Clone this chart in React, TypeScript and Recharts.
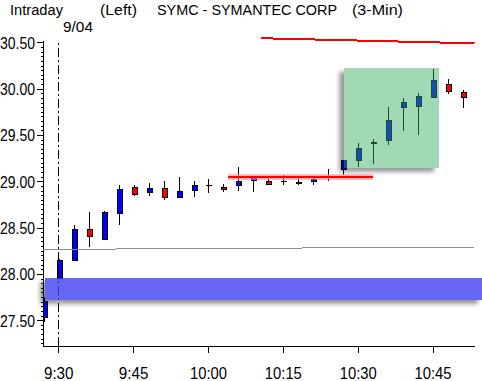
import React from 'react';
import { ComposedChart, Bar, XAxis, YAxis, ReferenceArea, ReferenceLine } from 'recharts';

// minutes after 9:30, one 3-min candle each
const times = [-3, 0, 3, 6, 9, 12, 15, 18, 21, 24, 27, 30, 33, 36, 39, 42, 45, 48, 51, 54, 57, 60, 63, 66, 69, 72, 75, 78, 81];
const opens = [27.54, 27.96, 28.16, 28.49, 28.38, 28.66, 28.94, 28.89, 28.93, 28.84, 28.91, 28.96, 28.94, 28.96, 29.02, 29.01, 29.01, 28.99, 29.01, 29.06, 29.14, 29.23, 29.42, 29.45, 29.81, 29.82, 29.92, 30.06, 29.97];
const highs = [27.76, 28.17, 28.53, 28.67, 28.68, 28.96, 28.96, 28.99, 29.01, 29.05, 29.01, 29.03, 28.98, 29.16, 29.06, 29.06, 29.07, 29.05, 29.05, 29.14, 29.23, 29.42, 29.46, 29.81, 29.90, 29.96, 30.22, 30.11, 29.99];
const lows = [27.49, 27.95, 28.15, 28.30, 28.37, 28.53, 28.85, 28.85, 28.80, 28.82, 28.84, 28.88, 28.89, 28.90, 28.89, 28.97, 28.96, 28.96, 28.97, 29.01, 29.07, 29.16, 29.19, 29.40, 29.55, 29.50, 29.90, 29.95, 29.80];
const closes = [27.71, 28.16, 28.49, 28.41, 28.67, 28.92, 28.87, 28.93, 28.84, 28.90, 28.96, 28.96, 28.92, 29.01, 29.05, 28.98, 29.01, 29.00, 29.03, 29.06, 29.23, 29.36, 29.43, 29.67, 29.86, 29.93, 30.10, 29.98, 29.92];

const xTicks = [0, 15, 30, 45, 60, 75];
const xTickLabels = ['9:30', '9:45', '10:00', '10:15', '10:30', '10:45'];
const yMajorTicks = [27.5, 28, 28.5, 29, 29.5, 30, 30.5];

// drawn studies (data coordinates)
const blueBand = { x1: -2.75, x2: 85, y1: 27.725, y2: 27.96 };
const greenBox = { x1: 57.2, x2: 76.2, y1: 29.15, y2: 30.23 };
const supportLine = [{ x: 34, y: 29.056 }, { x: 62.9, y: 29.056 }];
const topLine = [{ x: 40.5, y: 30.55 }, { x: 83.3, y: 30.495 }];
const grayLine = [{ x: -3.15, y: 28.27 }, { x: 83.3, y: 28.295 }];

const FONT = "'Liberation Sans Narrow', 'Liberation Sans', Arial, sans-serif";

const candles = times.map((t, i) => ({
  t,
  open: opens[i],
  high: highs[i],
  low: lows[i],
  close: closes[i],
  range: [lows[i], highs[i]],
}));

const yTicks: number[] = [];
for (let i = 0; i <= 65; i++) yTicks.push(+(27.25 + i * 0.05).toFixed(2));

const Candle = (props: any) => {
  const { x, y, width, height, payload } = props;
  const top = Math.min(y, y + height);
  const h = Math.abs(height);
  const ppu = h / (payload.high - payload.low);
  const cx = Math.round(x + width / 2) + 0.5;
  const yO = top + (payload.high - payload.open) * ppu;
  const yC = top + (payload.high - payload.close) * ppu;
  const bodyTop = Math.round(Math.min(yO, yC)) + 0.5;
  const bodyBot = Math.round(Math.max(yO, yC)) + 0.5;
  const up = payload.close > payload.open;
  const doji = payload.close === payload.open;
  return (
    <g>
      <line x1={cx} x2={cx} y1={top} y2={top + h} stroke="#000" strokeWidth={1} />
      {doji ? (
        <line x1={cx - 3} x2={cx + 3} y1={bodyTop} y2={bodyTop} stroke="#000" strokeWidth={1} />
      ) : (
        <rect
          x={cx - 2.5}
          y={bodyTop}
          width={5}
          height={Math.max(bodyBot - bodyTop, 1)}
          fill={up ? '#0000ff' : '#ff0000'}
          stroke="#000"
          strokeWidth={1}
        />
      )}
    </g>
  );
};

const XTick = (props: any) => {
  const { x, y, payload } = props;
  const label = xTickLabels[xTicks.indexOf(payload.value)] ?? '';
  return (
    <text x={x} y={y + 26} textAnchor="middle" fontSize={16} fontFamily={FONT} fill="#000"
      textLength={label.length * 7.4} lengthAdjust="spacingAndGlyphs">
      {label}
    </text>
  );
};

const YTick = (props: any) => {
  const { x, y, payload } = props;
  const v = payload.value;
  const major = yMajorTicks.some((m) => Math.abs(m - v) < 1e-6);
  if (!major) return <line x1={x - 2} x2={x} y1={y} y2={y} stroke="#000" />;
  return (
    <g>
      <line x1={x - 6} x2={x} y1={y} y2={y} stroke="#000" />
      <text x={x - 8} y={y + 6} textAnchor="end" fontSize={16} fontFamily={FONT} fill="#000"
        textLength={35} lengthAdjust="spacingAndGlyphs">
        {v.toFixed(2)}
      </text>
    </g>
  );
};

const shadowed = (id: string, fill: string, opacity: number) => (props: any) => {
  const { x, y, width, height } = props;
  return (
    <g>
      <mask id={`m-${id}`} maskUnits="userSpaceOnUse" x={0} y={0} width={600} height={500}>
        <rect x={0} y={0} width={600} height={500} fill="#fff" />
        <rect x={x} y={y} width={width} height={height} fill="#000" />
      </mask>
      <rect x={x - 5} y={y + 4} width={width} height={height} fill="#000" opacity={0.4}
        filter="url(#soft)" mask={`url(#m-${id})`} style={{ shapeRendering: 'auto' }} />
      <rect x={x} y={y} width={width} height={height} fill={fill} fillOpacity={opacity} />
    </g>
  );
};

const App: React.FC = () => {
  return (
    <div style={{ position: 'absolute', left: 0, top: 0, width: 482, height: 381, background: '#fff' }}>
      <div style={{ shapeRendering: 'crispEdges' } as React.CSSProperties}>
        <ComposedChart width={482} height={381} data={candles} margin={{ top: 41, right: 7, bottom: 0, left: 0 }}>
          <defs>
            <filter id="soft" x="-20%" y="-60%" width="140%" height="220%">
              <feGaussianBlur stdDeviation="2.2" />
            </filter>
          </defs>
          <XAxis
            dataKey="t"
            type="number"
            domain={[-3.15, 83.4]}
            allowDataOverflow
            ticks={xTicks}
            interval={0}
            height={35}
            tickSize={7}
            tickMargin={0}
            stroke="#000"
            axisLine={{ stroke: '#000' }}
            tickLine={{ stroke: '#000' }}
            tick={<XTick />}
          />
          <YAxis
            type="number"
            domain={[27.227, 30.52]}
            allowDataOverflow
            ticks={yTicks}
            interval={0}
            width={43}
            tickSize={0}
            tickMargin={0}
            tickLine={false}
            axisLine={{ stroke: '#000' }}
            tick={<YTick />}
          />
          <Bar dataKey="range" barSize={7} shape={Candle} isAnimationActive={false} />
          <ReferenceLine x={0} stroke="#000" strokeDasharray="9 3 2 3" zIndex={650} />
          <ReferenceLine segment={grayLine} stroke="#8c8c8c" strokeWidth={1} ifOverflow="visible" zIndex={650} />
          <ReferenceLine segment={topLine} stroke="#ff0000" strokeWidth={2} ifOverflow="visible" zIndex={650} />
          <ReferenceArea {...blueBand} ifOverflow="visible" zIndex={700}
            shape={shadowed('blue', '#3c3cf0', 0.78)} />
          <ReferenceArea {...greenBox} ifOverflow="visible" zIndex={700}
            shape={shadowed('green', '#2eaa5c', 0.45)} />
          <ReferenceLine segment={supportLine} stroke="#ff9090" strokeWidth={6} strokeOpacity={0.6} ifOverflow="visible" zIndex={710} />
          <ReferenceLine segment={supportLine} stroke="#ff0000" strokeWidth={2} ifOverflow="visible" zIndex={720} />
        </ComposedChart>
      </div>
      <svg width={482} height={381} style={{ position: 'absolute', left: 0, top: 0, pointerEvents: 'none' }}>
        <g fontFamily={FONT} fontSize={15.5} fill="#000">
          <text x={10} y={15} textLength={53} lengthAdjust="spacingAndGlyphs">Intraday</text>
          <text x={100} y={15} textLength={37} lengthAdjust="spacingAndGlyphs">(Left)</text>
          <text x={157} y={15} textLength={180} lengthAdjust="spacingAndGlyphs">SYMC - SYMANTEC CORP</text>
          <text x={352} y={15} textLength={51} lengthAdjust="spacingAndGlyphs">(3-Min)</text>
          <text x={63} y={31.5} textLength={30} lengthAdjust="spacingAndGlyphs">9/04</text>
        </g>
      </svg>
    </div>
  );
};

export default App;
